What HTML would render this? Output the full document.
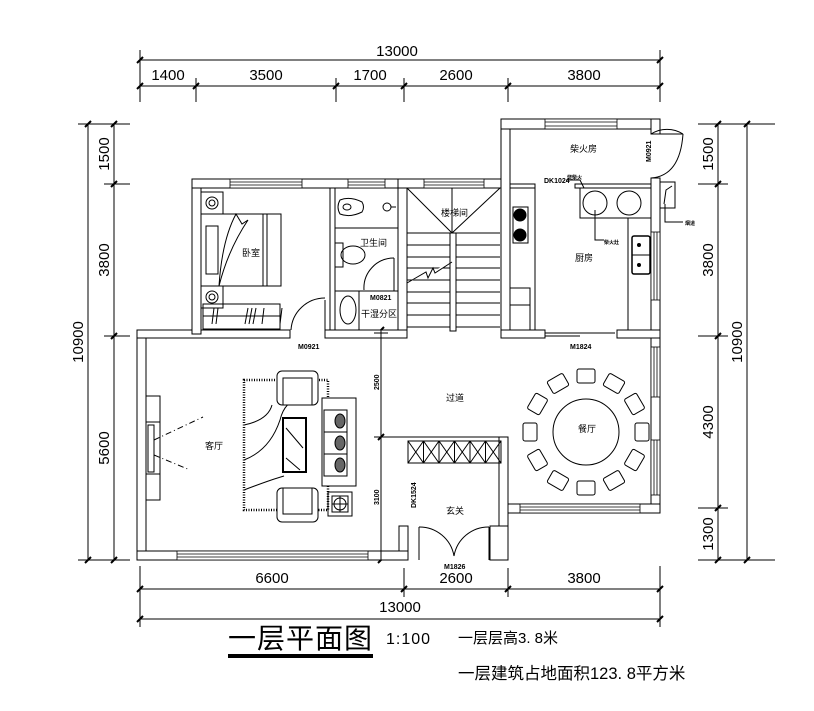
<!DOCTYPE html>
<html><head><meta charset="utf-8"><style>
html,body{margin:0;padding:0;background:#fff}
svg{display:block}
text{font-family:"Liberation Sans","Noto Sans CJK SC",sans-serif;fill:#000}
.d{font-family:"Liberation Sans Narrow","Liberation Sans",sans-serif;font-size:15px}
.s{font-size:9px}
.b{font-size:7px;font-weight:bold}
</style></head><body>
<svg width="814" height="711" viewBox="0 0 814 711" xmlns="http://www.w3.org/2000/svg">
<g stroke="#000" stroke-width="1" fill="none">
<line x1="140" y1="60" x2="660" y2="60"/><line x1="140" y1="86" x2="660" y2="86"/>
<line x1="140" y1="50" x2="140" y2="102"/><line x1="660" y1="50" x2="660" y2="102"/>
<line x1="196" y1="78" x2="196" y2="102"/><line x1="336" y1="78" x2="336" y2="102"/>
<line x1="404" y1="78" x2="404" y2="102"/><line x1="508" y1="78" x2="508" y2="102"/>
<line x1="88" y1="124" x2="88" y2="560"/><line x1="114" y1="124" x2="114" y2="560"/>
<line x1="78" y1="124" x2="130" y2="124"/><line x1="78" y1="560" x2="130" y2="560"/>
<line x1="104" y1="184" x2="130" y2="184"/><line x1="104" y1="336" x2="130" y2="336"/>
<line x1="718" y1="124" x2="718" y2="560"/><line x1="747" y1="124" x2="747" y2="560"/>
<line x1="698" y1="124" x2="775" y2="124"/><line x1="698" y1="560" x2="775" y2="560"/>
<line x1="698" y1="184" x2="728" y2="184"/><line x1="698" y1="336" x2="728" y2="336"/><line x1="698" y1="508" x2="728" y2="508"/>
<line x1="140" y1="589" x2="660" y2="589"/><line x1="140" y1="619" x2="660" y2="619"/>
<line x1="140" y1="566" x2="140" y2="627"/><line x1="660" y1="566" x2="660" y2="627"/>
<line x1="404" y1="568" x2="404" y2="597"/><line x1="508" y1="568" x2="508" y2="597"/>
</g>
<g stroke="#000" stroke-width="2">
<path d="M137 63l6-6M137 89l6-6M193 89l6-6M333 89l6-6M401 89l6-6M505 89l6-6M657 89l6-6M657 63l6-6"/>
<path d="M85 127l6-6M85 563l6-6M111 127l6-6M111 187l6-6M111 339l6-6M111 563l6-6"/>
<path d="M715 127l6-6M715 187l6-6M715 339l6-6M715 511l6-6M715 563l6-6M744 127l6-6M744 563l6-6"/>
<path d="M137 592l6-6M401 592l6-6M505 592l6-6M657 592l6-6M137 622l6-6M657 622l6-6"/>
<path d="M378 333l6-6M378 440l6-6M378 563l6-6"/>
</g>
<text class="d" x="397" y="56" text-anchor="middle">13000</text>
<text class="d" x="168" y="80" text-anchor="middle">1400</text>
<text class="d" x="266" y="80" text-anchor="middle">3500</text>
<text class="d" x="370" y="80" text-anchor="middle">1700</text>
<text class="d" x="456" y="80" text-anchor="middle">2600</text>
<text class="d" x="584" y="80" text-anchor="middle">3800</text>
<text class="d" x="272" y="583" text-anchor="middle">6600</text>
<text class="d" x="456" y="583" text-anchor="middle">2600</text>
<text class="d" x="584" y="583" text-anchor="middle">3800</text>
<text class="d" x="400" y="612" text-anchor="middle">13000</text>
<g class="d" text-anchor="middle">
<text transform="translate(109,154) rotate(-90)">1500</text>
<text transform="translate(109,260) rotate(-90)">3800</text>
<text transform="translate(109,448) rotate(-90)">5600</text>
<text transform="translate(83,342) rotate(-90)">10900</text>
<text transform="translate(713,154) rotate(-90)">1500</text>
<text transform="translate(713,260) rotate(-90)">3800</text>
<text transform="translate(713,422) rotate(-90)">4300</text>
<text transform="translate(713,534) rotate(-90)">1300</text>
<text transform="translate(742,342) rotate(-90)">10900</text>
</g>
<g stroke="#000" stroke-width="1" fill="#fff">
<rect x="137" y="330" width="9" height="230"/>
<rect x="137" y="551" width="262" height="9"/>
<rect x="137" y="330" width="153" height="8"/>
<rect x="325" y="330" width="82" height="8"/>
<rect x="192" y="179" width="9" height="155"/>
<rect x="192" y="179" width="215" height="9"/>
<rect x="330" y="188" width="5" height="142"/>
<rect x="398" y="188" width="9" height="142"/>
<rect x="398" y="179" width="112" height="9"/>
<rect x="501" y="119" width="9" height="219"/>
<rect x="501" y="119" width="159" height="10"/>
<rect x="651" y="119" width="9" height="15"/>
<rect x="651" y="178" width="9" height="335"/>
<rect x="501" y="330" width="44" height="8"/>
<rect x="617" y="330" width="43" height="8"/>
<rect x="510" y="184" width="25" height="4"/>
<rect x="575" y="184" width="76" height="4"/>
<rect x="499" y="504" width="161" height="9"/>
<rect x="499" y="437" width="9" height="123"/>
<rect x="490" y="526" width="18" height="34"/>
<rect x="399" y="526" width="9" height="34"/>
<rect x="381" y="551" width="27" height="9"/>
</g>
<g stroke="#000" stroke-width="0.8" fill="#fff">
<rect x="230" y="179" width="72" height="9"/><line x1="230" y1="182" x2="302" y2="182"/><line x1="230" y1="185" x2="302" y2="185"/>
<rect x="348" y="179" width="37" height="9"/><line x1="348" y1="182" x2="385" y2="182"/><line x1="348" y1="185" x2="385" y2="185"/>
<rect x="424" y="179" width="60" height="9"/><line x1="424" y1="182" x2="484" y2="182"/><line x1="424" y1="185" x2="484" y2="185"/>
<rect x="545" y="119" width="72" height="10"/><line x1="545" y1="122" x2="617" y2="122"/><line x1="545" y1="126" x2="617" y2="126"/>
<rect x="177" y="551" width="191" height="9"/><line x1="177" y1="554" x2="368" y2="554"/><line x1="177" y1="557" x2="368" y2="557"/>
<rect x="520" y="504" width="120" height="9"/><line x1="520" y1="507" x2="640" y2="507"/><line x1="520" y1="510" x2="640" y2="510"/>
<rect x="651" y="232" width="9" height="68"/><line x1="654" y1="232" x2="654" y2="300"/><line x1="657" y1="232" x2="657" y2="300"/>
<rect x="651" y="347" width="9" height="50"/><line x1="654" y1="347" x2="654" y2="397"/><line x1="657" y1="347" x2="657" y2="397"/>
<rect x="651" y="440" width="9" height="55"/><line x1="654" y1="440" x2="654" y2="495"/><line x1="657" y1="440" x2="657" y2="495"/>
</g>
<g stroke="#000" stroke-width="1" fill="none">
<rect x="201" y="192" width="22" height="22"/><circle cx="212" cy="203" r="6"/><circle cx="212" cy="203" r="3"/>
<rect x="201" y="286" width="22" height="22"/><circle cx="212" cy="297" r="6"/><circle cx="212" cy="297" r="3"/>
<rect x="201" y="214" width="80" height="72"/><rect x="206" y="226" width="12" height="48"/>
<line x1="263" y1="214" x2="263" y2="286"/><line x1="267" y1="214" x2="267" y2="286"/>
<path d="M219 286 Q222 240 236 214 L242 224 L248 220 Q228 250 219 286"/>
<rect x="203" y="304" width="77" height="25"/><line x1="203" y1="316" x2="280" y2="316"/>
<path d="M214 308l-2 16M218 308l-2 16M248 308l-3 16M252 308l-3 16M256 308l-3 16M264 308l-2 16M282 308l-2 16"/>
<line x1="325" y1="300" x2="325" y2="334"/><path d="M291 330 A34 34 0 0 1 325 298"/>
<line x1="335" y1="228" x2="398" y2="228"/>
<path d="M340 200 Q350 196 362 202 Q365 207 362 212 Q350 218 340 214 Q336 207 340 200Z"/><ellipse cx="347" cy="207" rx="4" ry="3"/>
<circle cx="387" cy="207" r="4"/><line x1="391" y1="207" x2="396" y2="207"/>
<rect x="335" y="243" width="8" height="24"/><ellipse cx="353" cy="255" rx="12" ry="9"/>
<line x1="335" y1="291" x2="398" y2="291"/><line x1="359" y1="291" x2="359" y2="330"/>
<ellipse cx="348" cy="310" rx="8" ry="14"/>
<line x1="394" y1="258" x2="394" y2="291"/><path d="M364 290 A30 30 0 0 1 394 258"/>
<line x1="407" y1="188" x2="452" y2="233"/><line x1="500" y1="188" x2="452" y2="233"/><line x1="452" y1="188" x2="452" y2="233"/>
<line x1="407" y1="233" x2="500" y2="233"/>
<path d="M407 245H500M407 257H500M407 268H500M407 280H500M407 292H500M407 303H500M407 315H500M407 327H500"/>
<rect x="450" y="233" width="6" height="98" fill="#fff"/>
<path d="M407 283 L426 272 L428 278 L433 268 L435 273 L452 262" fill="#fff"/>
<line x1="510" y1="188" x2="535" y2="188"/>
<rect x="510" y="188" width="25" height="142"/>
<rect x="513" y="207" width="15" height="36"/>
<circle cx="520" cy="215" r="6" fill="#000"/><circle cx="520" cy="235" r="6" fill="#000"/>
<rect x="510" y="288" width="20" height="42"/><line x1="510" y1="305" x2="530" y2="305"/>
<rect x="580" y="188" width="71" height="30"/><circle cx="595" cy="203" r="12"/><circle cx="629" cy="203" r="12"/>
<line x1="628" y1="218" x2="628" y2="330"/>
<rect x="632" y="236" width="18" height="38" rx="2" stroke-width="1.5"/><line x1="632" y1="255" x2="650" y2="255"/>
<circle cx="639" cy="245" r="1.5" fill="#000"/><circle cx="639" cy="265" r="1.5" fill="#000"/>
<path d="M651 134 A30 30 0 0 1 683 134 M651 178 Q680 176 683 134"/>
<line x1="651" y1="134" x2="683" y2="134"/>
<rect x="660" y="182" width="15" height="26"/><path d="M664 204 L666 190 L672 186"/>
<path d="M665 204 V222 H683"/>
<path d="M595 210 V240 H604"/>
<path d="M566 180 H580 L584 188"/>
<path d="M545 333 H615 M545 336 H580 M580 333 H615"/>
<rect x="146" y="396" width="14" height="104"/><line x1="146" y1="422" x2="160" y2="422"/><line x1="146" y1="474" x2="160" y2="474"/>
<rect x="148" y="425" width="6" height="47"/>
<path d="M154 440 L203 417 M154 455 L190 470" stroke-dasharray="6,3,1,3"/>
<rect x="244" y="380" width="84" height="130" stroke-width="2.5" stroke-dasharray="1,1.5"/>
<path d="M244 460 Q270 450 280 420 Q285 400 300 400 M244 425 Q268 420 272 405 M244 490 Q270 480 284 476"/>
<rect x="277" y="371" width="41" height="34" rx="5" fill="#fff"/><rect x="283" y="378" width="29" height="27" fill="#fff"/>
<rect x="277" y="488" width="41" height="34" rx="5" fill="#fff"/><rect x="283" y="488" width="29" height="26" fill="#fff"/>
<rect x="283" y="418" width="23" height="54" stroke-width="2" fill="#fff"/>
<path d="M286 428 L303 448 M286 458 L300 470"/>
<rect x="322" y="398" width="34" height="88" fill="#fff"/>
<rect x="324" y="410" width="23" height="22" fill="#fff"/><rect x="324" y="432" width="23" height="22" fill="#fff"/><rect x="324" y="454" width="23" height="22" fill="#fff"/>
<ellipse cx="340" cy="421" rx="5" ry="7" fill="#666"/><ellipse cx="340" cy="443" rx="5" ry="7" fill="#666"/><ellipse cx="340" cy="465" rx="5" ry="7" fill="#666"/>
<rect x="328" y="492" width="24" height="24"/><rect x="332" y="496" width="16" height="16"/><circle cx="340" cy="504" r="6"/><path d="M332 504H348M340 496V512"/>
<line x1="381" y1="330" x2="381" y2="560"/><line x1="374" y1="333" x2="388" y2="333"/><line x1="374" y1="437" x2="388" y2="437"/>
<line x1="381" y1="437" x2="508" y2="437"/>
<rect x="408" y="441" width="93" height="22"/>
<path d="M423.5 441V463M439 441V463M454.5 441V463M470 441V463M485.5 441V463"/>
<path d="M408 441L423.5 463M423.5 441L408 463M423.5 441L439 463M439 441L423.5 463M439 441L454.5 463M454.5 441L439 463M454.5 441L470 463M470 441L454.5 463M470 441L485.5 463M485.5 441L470 463M485.5 441L501 463M501 441L485.5 463"/>
<line x1="419" y1="527" x2="419" y2="560"/><line x1="489" y1="527" x2="489" y2="560"/>
<path d="M419 527 A35 35 0 0 1 454 556 M489 527 A35 35 0 0 0 454 556"/>
<circle cx="586" cy="432" r="33"/>
</g>
<g stroke="#000" stroke-width="1" fill="#fff">
<g transform="translate(586,432)">
<rect x="-9" y="-63" width="18" height="14" rx="2" transform="rotate(0)"/>
<rect x="-9" y="-63" width="18" height="14" rx="2" transform="rotate(30)"/>
<rect x="-9" y="-63" width="18" height="14" rx="2" transform="rotate(60)"/>
<rect x="-9" y="-63" width="18" height="14" rx="2" transform="rotate(90)"/>
<rect x="-9" y="-63" width="18" height="14" rx="2" transform="rotate(120)"/>
<rect x="-9" y="-63" width="18" height="14" rx="2" transform="rotate(150)"/>
<rect x="-9" y="-63" width="18" height="14" rx="2" transform="rotate(180)"/>
<rect x="-9" y="-63" width="18" height="14" rx="2" transform="rotate(210)"/>
<rect x="-9" y="-63" width="18" height="14" rx="2" transform="rotate(240)"/>
<rect x="-9" y="-63" width="18" height="14" rx="2" transform="rotate(270)"/>
<rect x="-9" y="-63" width="18" height="14" rx="2" transform="rotate(300)"/>
<rect x="-9" y="-63" width="18" height="14" rx="2" transform="rotate(330)"/>
</g>
</g>
<g class="s">
<text x="242" y="256">卧室</text>
<text x="360" y="246">卫生间</text>
<text x="361" y="317">干湿分区</text>
<text x="441" y="216">楼梯间</text>
<text x="570" y="152">柴火房</text>
<text x="575" y="261">厨房</text>
<text x="205" y="449">客厅</text>
<text x="446" y="401">过道</text>
<text x="578" y="432">餐厅</text>
<text x="446" y="514">玄关</text>
</g>
<g class="b">
<text x="370" y="300">M0821</text>
<text x="298" y="349">M0921</text>
<text x="570" y="349">M1824</text>
<text x="444" y="569">M1826</text>
<text x="544" y="183">DK1024</text>
<text x="567" y="179" font-size="5">烧柴火</text>
<text x="604" y="244" font-size="5">柴火灶</text>
<text x="685" y="225" font-size="5">烟道</text>
<text transform="translate(651,162) rotate(-90)">M0921</text>
<text transform="translate(416,508) rotate(-90)">DK1524</text>
<text transform="translate(379,390) rotate(-90)">2500</text>
<text transform="translate(379,505) rotate(-90)">3100</text>
</g>
<text x="228" y="648" font-size="28" letter-spacing="1">一层平面图</text>
<rect x="228" y="654" width="145" height="4" fill="#000"/>
<text x="386" y="644" font-size="16" letter-spacing="1">1:100</text>
<text x="458" y="643" font-size="15">一层层高3. 8米</text>
<text x="458" y="679" font-size="16.5">一层建筑占地面积123. 8平方米</text>
</svg>
</body></html>
